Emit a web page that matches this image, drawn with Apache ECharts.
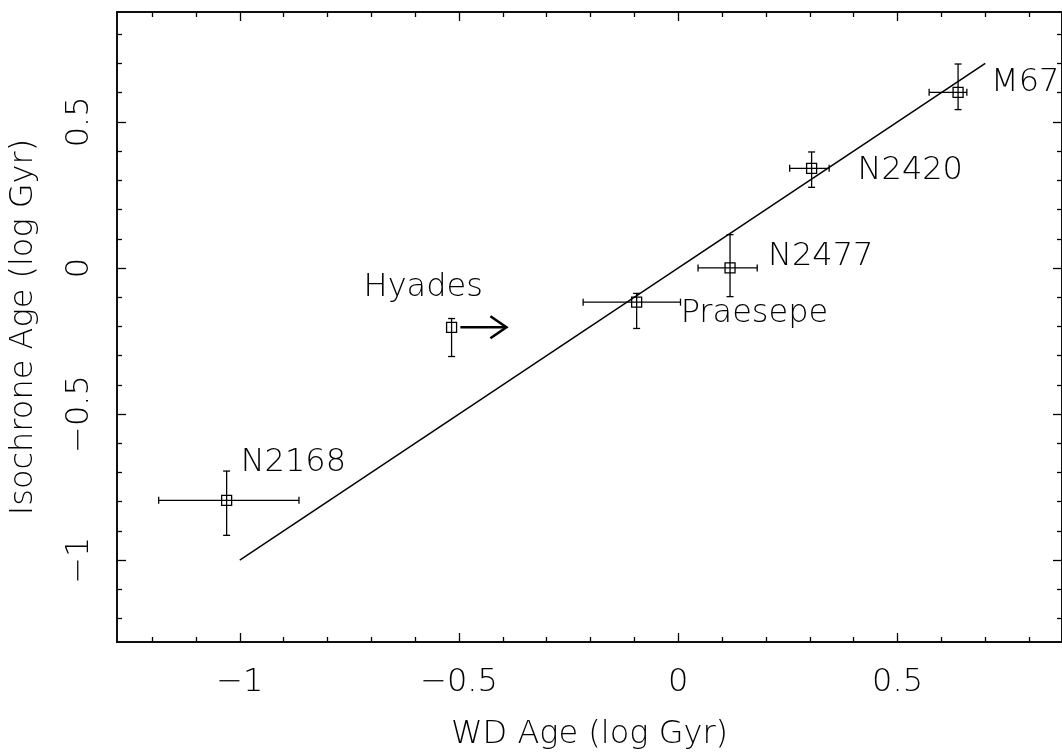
<!DOCTYPE html>
<html>
<head>
<meta charset="utf-8">
<script src="https://cdn.jsdelivr.net/npm/echarts@6/dist/echarts.min.js"></script>
<style>
  html, body { margin: 0; padding: 0; background: #fff; }
  #chart { width: 1062px; height: 756px; }
</style>
</head>
<body>
<div id="chart"></div>
<script>
// cluster ages, log Gyr
const clusters = ["N2168", "Hyades", "Praesepe", "N2477", "N2420", "M67"];
const wdAge = [-1.03, -0.517, -0.095, 0.118, 0.304, 0.638];
const wdErrLo = [0.155, 0, 0.122, 0.073, 0.05, 0.066];
const wdErrHi = [0.165, 0, 0.10, 0.062, 0.04, 0.02];
const isoAge = [-0.795, -0.203, -0.117, 0.0, 0.341, 0.601];
const isoErrHi = [0.10, 0.03, 0.03, 0.114, 0.056, 0.097];
const isoErrLo = [0.12, 0.10, 0.09, 0.098, 0.065, 0.059];

// one-to-one line and the Hyades arrow
const fitLine = [[-1, -1], [0.7, 0.7]];
const hyadesArrow = [[-0.497, -0.203], [-0.392, -0.203]];

// tick values
const xTickLabels = [-1, -0.5, 0, 0.5];
const xMinorTicks = [-1.2, -1.1, -0.9, -0.8, -0.7, -0.6, -0.4, -0.3, -0.2, -0.1, 0.1, 0.2, 0.3, 0.4, 0.6, 0.7, 0.8];
const yTickLabels = [-1, -0.5, 0, 0.5];
const yMinorTicks = [-1.2, -1.1, -0.9, -0.8, -0.7, -0.6, -0.4, -0.3, -0.2, -0.1, 0.1, 0.2, 0.3, 0.4, 0.6, 0.7, 0.8];

const X_MIN = -1.28, X_MAX = 0.875;
const Y_MIN = -1.28, Y_MAX = 0.876;

// label placement next to each point (pixels)
const labelOffset = {
  N2168: [14, -38],
  Hyades: [-88, -40],
  Praesepe: [44, 12],
  N2477: [38, -11],
  N2420: [46, 2],
  M67: [33, -10],
};

const FONT = "DejaVu Sans";
const FS = 32;
const ink = "#000";

function fmt(v) {
  if (v < 0) return "\u2212" + String(Math.abs(v));
  return String(v);
}

const chart = echarts.init(document.getElementById("chart"));

function xAxisDef(pos, ticks, len, withLabel) {
  return {
    type: "value", position: pos, min: X_MIN, max: X_MAX,
    axisLine: { show: true, onZero: false, lineStyle: { color: ink, width: 1.5 } },
    splitLine: { show: false },
    axisTick: { show: true, inside: true, length: len, customValues: ticks, lineStyle: { color: ink, width: 1.3 } },
    axisLabel: withLabel
      ? { show: true, customValues: xTickLabels, formatter: fmt, margin: 25, color: ink, fontSize: FS, fontFamily: FONT, fontWeight: 200 }
      : { show: false },
    name: withLabel ? "WD Age (log Gyr)" : "",
    nameLocation: "middle", nameGap: 77,
    nameTextStyle: { color: ink, fontSize: FS, fontFamily: FONT, fontWeight: 200 },
  };
}

function yAxisDef(pos, ticks, len, withLabel) {
  return {
    type: "value", position: pos, min: Y_MIN, max: Y_MAX,
    axisLine: { show: true, onZero: false, lineStyle: { color: ink, width: 1.5 } },
    splitLine: { show: false },
    axisTick: { show: true, inside: true, length: len, customValues: ticks, lineStyle: { color: ink, width: 1.3 } },
    axisLabel: withLabel
      ? { show: true, customValues: yTickLabels, formatter: fmt, rotate: 90, margin: 21, color: ink, fontSize: FS, fontFamily: FONT, fontWeight: 200 }
      : { show: false },
    name: withLabel ? "Isochrone Age (log Gyr)" : "",
    nameLocation: "middle", nameGap: 77, nameRotate: 90,
    nameTextStyle: { color: ink, fontSize: FS, fontFamily: FONT, fontWeight: 200 },
  };
}

const points = clusters.map((name, i) => [wdAge[i], isoAge[i], wdErrLo[i], wdErrHi[i], isoErrLo[i], isoErrHi[i]]);

function renderPoint(params, api) {
  const x = api.value(0), y = api.value(1);
  const c = api.coord([x, y]);
  const cap = 3.5, half = 5;
  const line = (x1, y1, x2, y2) => ({
    type: "line", shape: { x1, y1, x2, y2 },
    style: { stroke: ink, lineWidth: 1.3 },
  });
  const kids = [];
  if (api.value(2) > 0 || api.value(3) > 0) {
    const l = api.coord([x - api.value(2), y]);
    const r = api.coord([x + api.value(3), y]);
    kids.push(line(l[0], c[1], r[0], c[1]));
    kids.push(line(l[0], c[1] - cap, l[0], c[1] + cap));
    kids.push(line(r[0], c[1] - cap, r[0], c[1] + cap));
  }
  const b = api.coord([x, y - api.value(4)]);
  const t = api.coord([x, y + api.value(5)]);
  kids.push(line(c[0], b[1], c[0], t[1]));
  kids.push(line(c[0] - cap, b[1], c[0] + cap, b[1]));
  kids.push(line(c[0] - cap, t[1], c[0] + cap, t[1]));
  kids.push({
    type: "rect", shape: { x: c[0] - half, y: c[1] - half, width: half * 2, height: half * 2 },
    style: { stroke: ink, fill: "none", lineWidth: 1.3 },
  });
  const name = clusters[params.dataIndex];
  const off = labelOffset[name];
  kids.push({
    type: "text",
    x: c[0] + off[0], y: c[1] + off[1],
    style: { text: name, fill: ink, font: '200 ' + FS + 'px "' + FONT + '"', align: "left", verticalAlign: "middle" },
  });
  return { type: "group", children: kids };
}

function renderArrow(params, api) {
  const a = api.coord([api.value(0), api.value(1)]);
  const b = api.coord([api.value(2), api.value(3)]);
  const st = { stroke: ink, lineWidth: 2.6, fill: "none" };
  return {
    type: "group",
    children: [
      { type: "line", shape: { x1: a[0], y1: a[1], x2: b[0] - 1, y2: b[1] }, style: st },
      { type: "polyline", shape: { points: [[b[0] - 16, b[1] - 11], [b[0], b[1]], [b[0] - 16, b[1] + 11]] }, style: st },
    ],
  };
}

chart.setOption({
  backgroundColor: "#fff",
  animation: false,
  grid: { left: 115, top: 12, width: 948, height: 634, containLabel: false },
  xAxis: [
    xAxisDef("bottom", xTickLabels, 9, true),
    xAxisDef("bottom", xMinorTicks, 5, false),
    xAxisDef("top", xTickLabels, 9, false),
    xAxisDef("top", xMinorTicks, 5, false),
  ],
  yAxis: [
    yAxisDef("left", yTickLabels, 9, true),
    yAxisDef("left", yMinorTicks, 5, false),
    yAxisDef("right", yTickLabels, 9, false),
    yAxisDef("right", yMinorTicks, 5, false),
  ],
  series: [
    {
      type: "line", data: fitLine, showSymbol: false, symbol: "none",
      lineStyle: { color: ink, width: 1.5 }, silent: true,
    },
    {
      type: "custom", renderItem: renderPoint, data: points, clip: false,
    },
    {
      type: "custom", renderItem: renderArrow,
      data: [[hyadesArrow[0][0], hyadesArrow[0][1], hyadesArrow[1][0], hyadesArrow[1][1]]],
      clip: false,
    },
  ],
});
</script>
</body>
</html>
